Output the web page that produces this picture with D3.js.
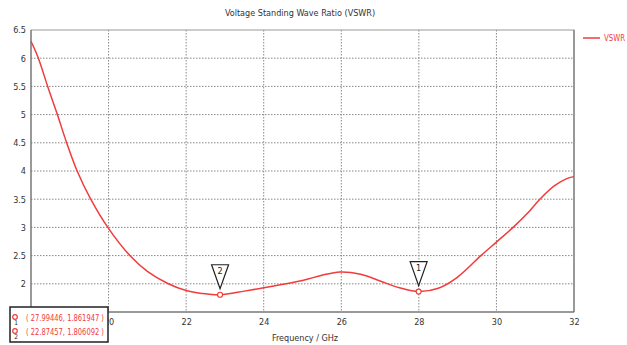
<!DOCTYPE html>
<html><head><meta charset="utf-8">
<script src="https://cdn.jsdelivr.net/npm/d3@7"></script>
<style>body{margin:0;background:#fff;} text{font-family:"DejaVu Sans Condensed","Liberation Sans",sans-serif;}</style>
</head><body><svg id="c" width="627" height="345"></svg>
<script>
const freq = [18,18.19,18.43,18.68,18.92,19.19,19.54,19.98,20.55,21.0,21.54,22.0,22.4,22.87,23.5,24.0,25.0,25.5,25.96,26.5,27.0,27.5,28.0,28.5,29.0,29.6,30.0,30.43,30.8,31.12,31.5,31.8,32.0];
const vswr = [6.3,6.0,5.5,5.0,4.5,4.0,3.5,3.0,2.5,2.22,2.0,1.88,1.83,1.806,1.87,1.93,2.06,2.15,2.21,2.17,2.05,1.93,1.862,1.92,2.12,2.5,2.74,3.0,3.25,3.5,3.74,3.86,3.9];
const xTicks = [20,22,24,26,28,30,32];
const yTicks = [1.5,2,2.5,3,3.5,4,4.5,5,5.5,6,6.5];
const markers = [{id:"1", f:27.99446, v:1.861947},{id:"2", f:22.87457, v:1.806092}];
const red = "#f03c3c";
const svg = d3.select("#c");
const L=31,R=574,T=30,B=312;
const x = d3.scaleLinear().domain([18,32]).range([L,R]);
const y = d3.scaleLinear().domain([1.5,6.5]).range([B,T]);
// grid
svg.append("g").selectAll("line").data(xTicks.slice(0,-1)).join("line")
  .attr("x1",d=>x(d)).attr("x2",d=>x(d)).attr("y1",T).attr("y2",B)
  .attr("stroke","#888").attr("stroke-dasharray","1.5,1.5");
svg.append("g").selectAll("line").data(yTicks.slice(1,-1)).join("line")
  .attr("x1",L).attr("x2",R).attr("y1",d=>y(d)).attr("y2",d=>y(d))
  .attr("stroke","#888").attr("stroke-dasharray","1.5,1.5");
svg.append("rect").attr("x",L).attr("y",T).attr("width",R-L).attr("height",B-T)
  .attr("fill","none").attr("stroke","#999");
svg.append("line").attr("x1",L).attr("x2",L).attr("y1",T).attr("y2",B).attr("stroke","#666");
svg.append("line").attr("x1",R).attr("x2",R).attr("y1",T).attr("y2",B).attr("stroke","#666");
svg.append("line").attr("x1",L).attr("x2",R).attr("y1",B).attr("y2",B).attr("stroke","#666");
// axes
const xa = svg.append("g").attr("transform",`translate(0,${B})`)
  .call(d3.axisBottom(x).tickValues(xTicks).tickSize(0).tickPadding(7).tickFormat(d3.format("d")));
xa.select(".domain").remove();
xa.selectAll("text").attr("font-size",9).attr("fill","#333");
const ya = svg.append("g").attr("transform",`translate(${L},0)`)
  .call(d3.axisLeft(y).tickValues(yTicks).tickSize(0).tickPadding(5).tickFormat(d=>String(d)));
ya.select(".domain").remove();
ya.selectAll("text").attr("font-size",9).attr("fill","#333");
// curve
svg.append("path").datum(freq.map((f,i)=>[f,vswr[i]]))
  .attr("d",d3.line().x(d=>x(d[0])).y(d=>y(d[1])).curve(d3.curveCatmullRom.alpha(0.5)))
  .attr("fill","none").attr("stroke",red).attr("stroke-width",1.5);
// markers
markers.forEach(m=>{
  const px=x(m.f), py=y(m.v);
  svg.append("path").attr("d",`M${px-8.5},${py-30} L${px+8.5},${py-30} L${px},${py-6} Z`)
    .attr("fill","#fff").attr("stroke","#222").attr("stroke-width",1.2);
  svg.append("text").attr("x",px).attr("y",py-21).attr("text-anchor","middle")
    .attr("font-size",9).attr("fill","#222").text(m.id);
  svg.append("circle").attr("cx",px).attr("cy",py).attr("r",2.5)
    .attr("fill","#fff").attr("stroke",red).attr("stroke-width",1.2);
});
// title & labels
svg.append("text").attr("x",300).attr("y",16).attr("text-anchor","middle")
  .attr("font-size",9).attr("fill","#333").text("Voltage Standing Wave Ratio (VSWR)");
svg.append("text").attr("x",305).attr("y",341).attr("text-anchor","middle")
  .attr("font-size",9).attr("fill","#333").text("Frequency / GHz");
svg.append("line").attr("x1",583).attr("x2",600).attr("y1",38).attr("y2",38).attr("stroke",red).attr("stroke-width",1.5);
svg.append("text").attr("x",604).attr("y",41).attr("font-size",9).attr("fill",red)
  .attr("textLength",21).attr("lengthAdjust","spacingAndGlyphs").text("VSWR");
// marker box
const bx=svg.append("g");
bx.append("rect").attr("x",10).attr("y",307).attr("width",98).attr("height",35)
  .attr("fill","#fff").attr("stroke","#222").attr("stroke-width",1.5);
markers.forEach((m,i)=>{
  const ry = 318+i*14;
  bx.append("circle").attr("cx",15).attr("cy",ry-1).attr("r",2.3).attr("fill","#fff").attr("stroke",red).attr("stroke-width",1.2);
  bx.append("text").attr("x",16).attr("y",ry+7).attr("text-anchor","middle").attr("font-size",6.5).attr("fill","#222").text(m.id);
  bx.append("text").attr("x",26).attr("y",ry+3).attr("font-size",8.5).attr("fill",red)
    .attr("textLength",78).attr("lengthAdjust","spacingAndGlyphs")
    .text(`( ${m.f}, ${m.v} )`);
});
</script></body></html>
